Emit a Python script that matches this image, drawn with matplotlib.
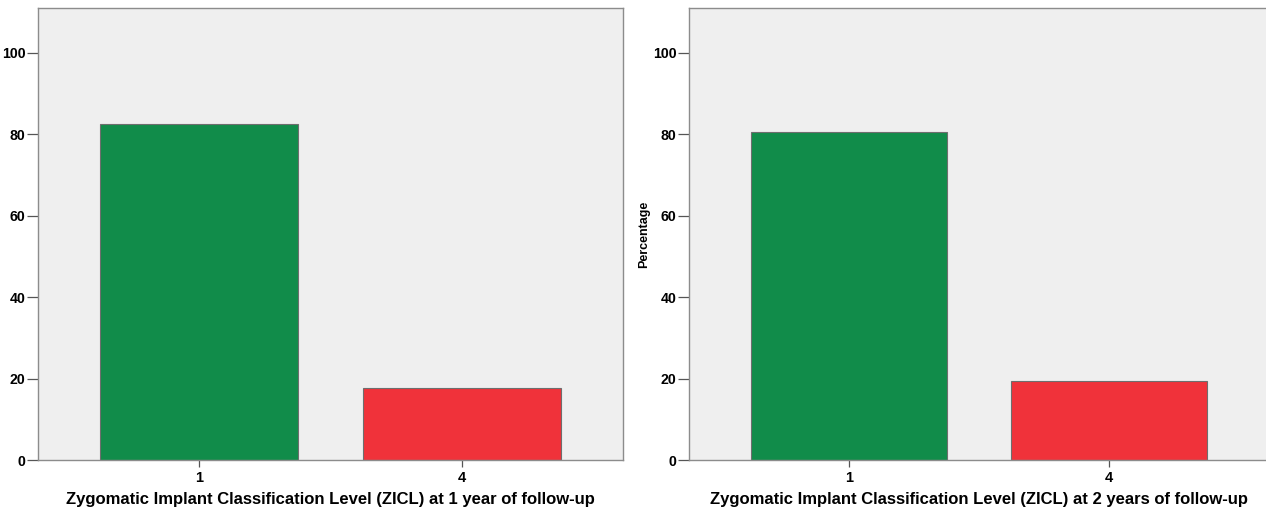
import matplotlib.pyplot as plt

# ZICL levels and percentages per follow-up period
categories = ["1", "4"]
year1_pct = [82.4, 17.6]
year2_pct = [80.6, 19.4]
bar_colors = ["#118c4a", "#f0323a"]

xlabels = [
    "Zygomatic Implant Classification Level (ZICL) at 1 year of follow-up",
    "Zygomatic Implant Classification Level (ZICL) at 2 years of follow-up",
]

plt.rcParams['font.family'] = ['Liberation Sans', 'DejaVu Sans']
plt.rcParams['font.weight'] = 'bold'

W, H = 1266, 511
fig = plt.figure(figsize=(W / 100, H / 100), dpi=100)
fig.patch.set_facecolor('white')

# axes boxes in pixels: (left, top, right, bottom)
boxes = [(38, 8, 623, 460), (689, 8, 1268, 460)]
panels = [year1_pct, year2_pct]

for i, (box, vals) in enumerate(zip(boxes, panels)):
    l, t, r, b = box
    ax = fig.add_axes([l / W, (H - b) / H, (r - l) / W, (b - t) / H])
    ax.set_facecolor('#efefef')
    xs = range(len(categories))
    ax.bar(xs, vals, width=0.755, color=bar_colors,
           edgecolor='#6e6e6e', linewidth=0.8, zorder=2)
    ax.set_ylim(0, 111)
    left_margin = 161 if i == 0 else 160
    spacing = 263 if i == 0 else 260
    ax.set_xlim(-left_margin / spacing, -left_margin / spacing + (r - l) / spacing)
    ax.set_xticks(list(xs))
    ax.set_xticklabels(categories)
    ax.set_yticks([0, 20, 40, 60, 80, 100])
    for s in ax.spines.values():
        s.set_color('#8c8c8c')
        s.set_linewidth(1.0)
    ax.tick_params(axis='y', length=8, width=0.9, color='#555555',
                   labelsize=10.2, pad=1)
    ax.tick_params(axis='x', length=5, width=0.9, color='#555555',
                   labelsize=10.5, pad=3)
    for lab in ax.get_xticklabels() + ax.get_yticklabels():
        lab.set_fontweight('bold')
    ax.set_xlabel(xlabels[i], fontsize=11.95, fontweight='bold', labelpad=5)
    if i == 1:
        ax.set_ylabel("Percentage", fontsize=9, fontweight='bold', labelpad=2)

fig.savefig("out.png", dpi=100)
